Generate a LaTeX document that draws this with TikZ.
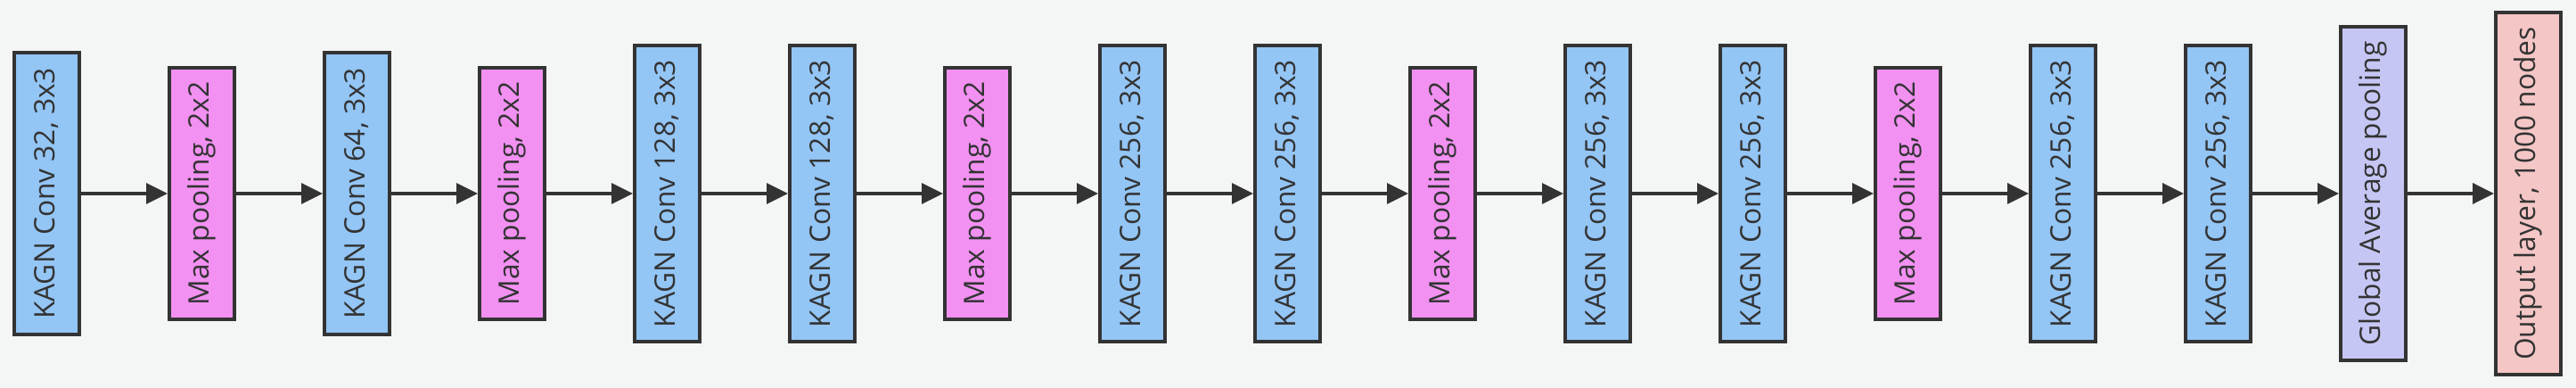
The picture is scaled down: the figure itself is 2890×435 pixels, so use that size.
\documentclass[tikz,border=0pt]{standalone}
\usepackage{fontspec}
\setmainfont{Open Sans}
\usepackage{graphicx}
\usetikzlibrary{arrows.meta}
\definecolor{bgc}{HTML}{F4F6F5}
\definecolor{edgec}{HTML}{333333}
\definecolor{convc}{HTML}{93C5F5}
\definecolor{poolc}{HTML}{F291F2}
\definecolor{gapc}{HTML}{C6C6F5}
\definecolor{outc}{HTML}{F5C6C6}
\tikzset{
  layer/.style={draw=edgec, line width=4pt, rectangle, minimum width=73pt, inner sep=0pt, text=edgec, font=\fontsize{31.7}{38}\selectfont},
  conv/.style={layer, fill=convc, minimum height=316pt},
  convb/.style={layer, fill=convc, minimum height=332pt},
  pool/.style={layer, fill=poolc, minimum height=282pt},
  gap/.style={layer, fill=gapc, minimum height=374pt},
  outl/.style={layer, fill=outc, minimum height=405pt},
  flow/.style={draw=edgec, line width=3.5pt, -{Triangle[length=24pt,width=23pt]}}
}
\newcommand{\rt}[1]{\rotatebox{90}{#1}}
\begin{document}
\begin{tikzpicture}[x=1pt,y=-1pt]
\fill[bgc] (0,0) rectangle (2890,435);
\useasboundingbox (0,0) rectangle (2890,435);
\node[conv]  (n0)  at (52.5+174*0,217) {\rt{KAGN Conv 32, 3x3}};
\node[pool]  (n1)  at (52.5+174*1,217) {\rt{Max pooling, 2x2}};
\node[conv]  (n2)  at (52.5+174*2,217) {\rt{KAGN Conv 64, 3x3}};
\node[pool]  (n3)  at (52.5+174*3,217) {\rt{Max pooling, 2x2}};
\node[convb] (n4)  at (52.5+174*4,217) {\rt{KAGN Conv 128, 3x3}};
\node[convb] (n5)  at (52.5+174*5,217) {\rt{KAGN Conv 128, 3x3}};
\node[pool]  (n6)  at (52.5+174*6,217) {\rt{Max pooling, 2x2}};
\node[convb] (n7)  at (52.5+174*7,217) {\rt{KAGN Conv 256, 3x3}};
\node[convb] (n8)  at (52.5+174*8,217) {\rt{KAGN Conv 256, 3x3}};
\node[pool]  (n9)  at (52.5+174*9,217) {\rt{Max pooling, 2x2}};
\node[convb] (n10) at (52.5+174*10,217) {\rt{KAGN Conv 256, 3x3}};
\node[convb] (n11) at (52.5+174*11,217) {\rt{KAGN Conv 256, 3x3}};
\node[pool]  (n12) at (52.5+174*12,217) {\rt{Max pooling, 2x2}};
\node[convb] (n13) at (52.5+174*13,217) {\rt{KAGN Conv 256, 3x3}};
\node[convb] (n14) at (52.5+174*14,217) {\rt{KAGN Conv 256, 3x3}};
\node[gap]   (n15) at (52.5+174*15,217) {\rt{Global Average pooling}};
\node[outl]  (n16) at (52.5+174*16,217) {\rt{Output layer, 1000 nodes}};
\foreach \a/\b in {n0/n1,n1/n2,n2/n3,n3/n4,n4/n5,n5/n6,n6/n7,n7/n8,n8/n9,n9/n10,n10/n11,n11/n12,n12/n13,n13/n14,n14/n15,n15/n16}
  \draw[flow] (\a) -- (\b);
\end{tikzpicture}
\end{document}
